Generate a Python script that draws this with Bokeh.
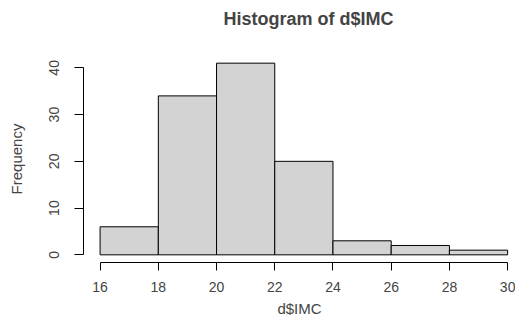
from bokeh.plotting import figure
from bokeh.models import Range1d, FixedTicker
from bokeh.embed import file_html
from bokeh.resources import INLINE

# Data
bin_edges = [16, 18, 20, 22, 24, 26, 28, 30]
counts = [6, 34, 41, 20, 3, 2, 1]
x_ticks = [16, 18, 20, 22, 24, 26, 28, 30]
y_ticks = [0, 10, 20, 30, 40]
title_text = "Histogram of d$IMC"

lefts = bin_edges[:-1]
rights = bin_edges[1:]

FONT = "Liberation Sans"

p = figure(
    width=515, height=320,
    output_backend="svg", toolbar_location=None,
    x_range=Range1d(15.43, 30.27),
    y_range=Range1d(-1.64, 42.64),
    min_border_left=83, min_border_right=0,
    min_border_top=55, min_border_bottom=58,
    title=title_text + "\n",
)

p.quad(left=lefts, right=rights, bottom=0, top=counts,
       fill_color="#d3d3d3", line_color="black", line_width=1)

p.outline_line_color = None
p.grid.visible = False
p.background_fill_color = "white"
p.border_fill_color = "white"

p.title.text_font = FONT
p.title.text_font_size = "18px"
p.title.text_font_style = "bold"
p.title.text_line_height = 1.1
p.title.align = "left"
p.title.offset = 140
p.title.standoff = 10

xa = p.xaxis[0]
xa.ticker = FixedTicker(ticks=x_ticks)
xa.bounds = (16, 30)
xa.axis_label = "d$IMC"
xa.axis_label_text_font = FONT
xa.axis_label_text_font_size = "15px"
xa.axis_label_text_font_style = "normal"
xa.axis_label_standoff = 5
xa.major_label_text_font = FONT
xa.major_label_text_font_size = "14px"
xa.major_label_standoff = 11
xa.major_tick_out = 8
xa.major_tick_in = 0
xa.minor_tick_line_color = None
xa.axis_line_color = "black"
xa.major_tick_line_color = "black"

ya = p.yaxis[0]
ya.ticker = FixedTicker(ticks=y_ticks)
ya.bounds = (0, 40)
ya.axis_label = "Frequency"
ya.axis_label_text_font = FONT
ya.axis_label_text_font_size = "15px"
ya.axis_label_text_font_style = "normal"
ya.axis_label_standoff = 22
ya.major_label_text_font = FONT
ya.major_label_text_font_size = "14px"
ya.major_label_orientation = "vertical"
ya.major_label_standoff = 15
ya.major_tick_out = 9
ya.major_tick_in = 0
ya.minor_tick_line_color = None
ya.axis_line_color = "black"
ya.major_tick_line_color = "black"

open("out.html", "w").write(file_html(p, INLINE))
